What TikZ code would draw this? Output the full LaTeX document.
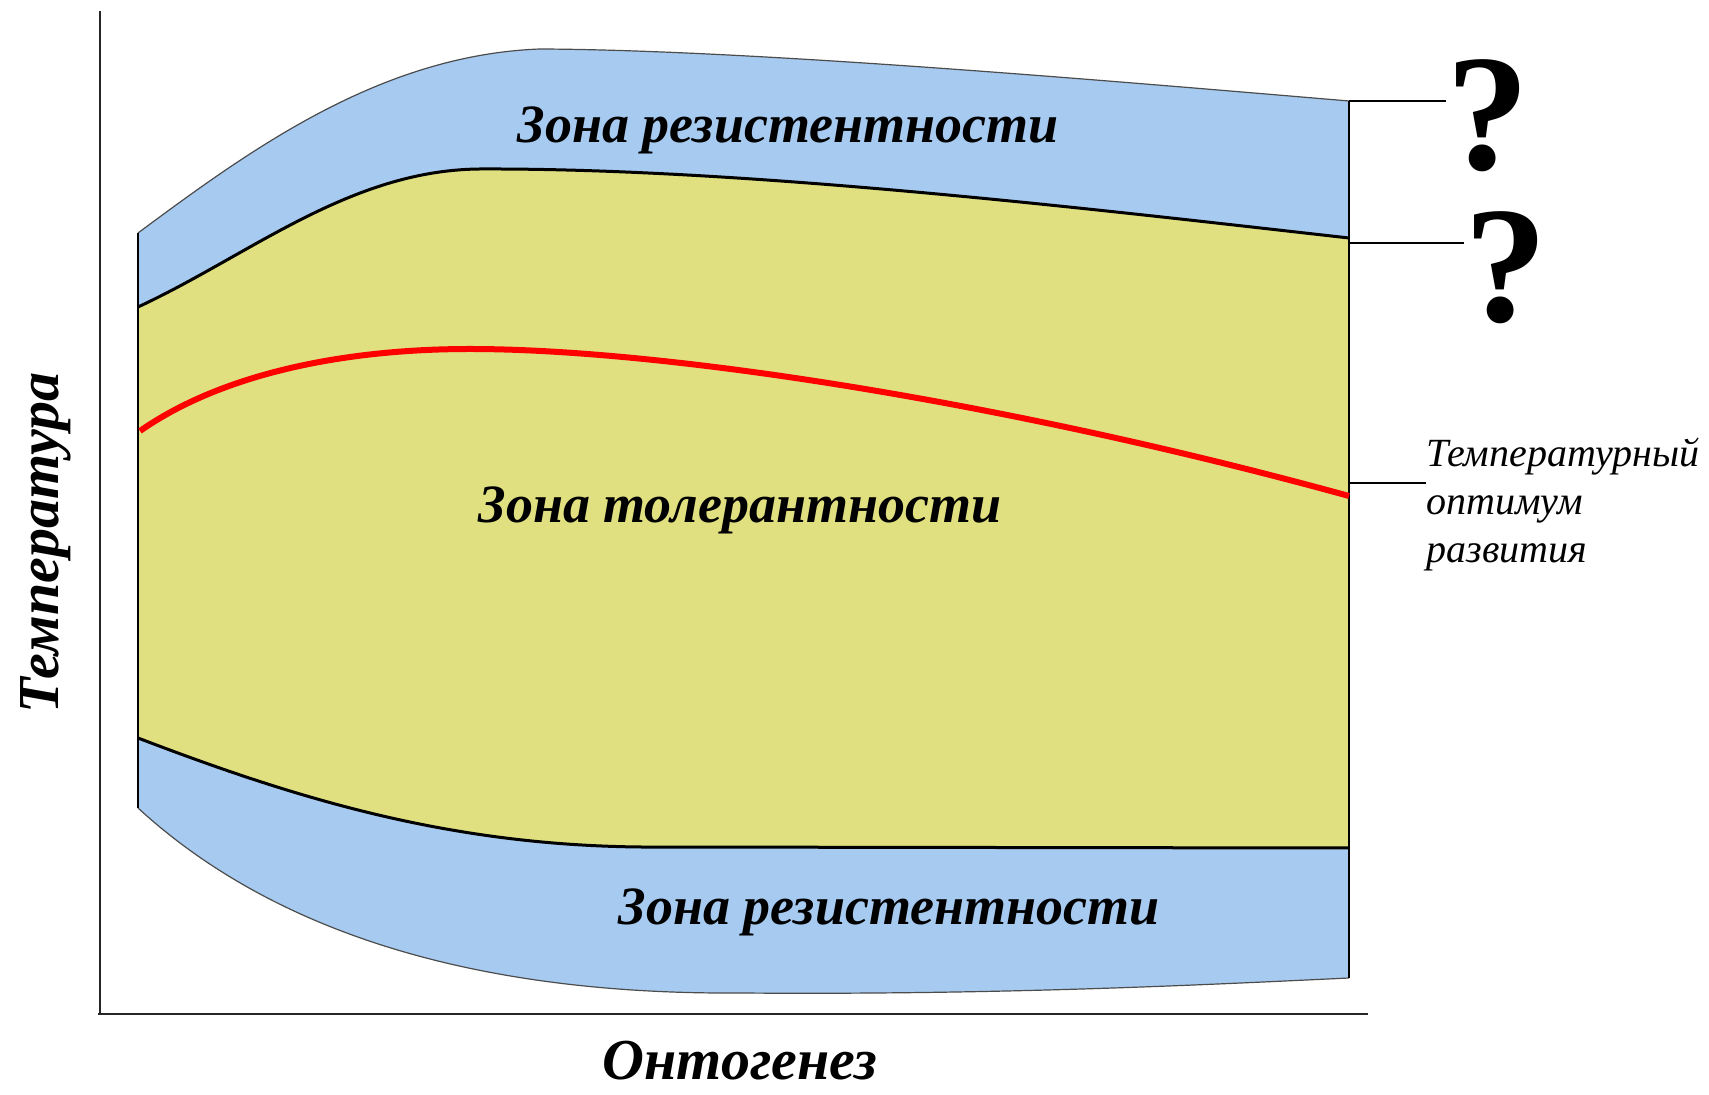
\documentclass[tikz,border=0pt]{standalone}
\usepackage{fontspec}
\setmainfont{Liberation Serif}
\usetikzlibrary{calc}
\definecolor{zoneblue}{HTML}{A6CAF0}
\definecolor{zoneyellow}{HTML}{E0E080}
\definecolor{optred}{HTML}{FF0000}
\tikzset{zone/.style={font=\fontsize{27}{32}\selectfont\bfseries\itshape,inner sep=0pt},axislabel/.style={font=\fontsize{29}{34}\selectfont\bfseries\itshape,inner sep=0pt},qmark/.style={font=\fontsize{83}{90}\selectfont\bfseries,inner sep=0pt},note/.style={font=\fontsize{20}{24}\selectfont\itshape,align=left,inner sep=0pt},rim/.style={black!70,line width=.6pt},border/.style={line width=1.5pt},optimum/.style={optred,line width=3pt},leader/.style={line width=.6pt},axis/.style={black!85,line width=1pt},every picture/.style={line cap=butt}}

\begin{document}
\begin{tikzpicture}[x=.5pt,y=-.5pt]
\useasboundingbox (0,0) rectangle (1709,1095);
% zones
\fill[zoneblue] (138,233) .. controls (250,150) and (380,55) .. (540,49) .. controls (750,50) and (1100,80) .. (1349,101) -- (1349,978) .. controls (1200,985) and (1000,995) .. (740,993) .. controls (450,995) and (260,920) .. (138,808) -- cycle;
\fill[zoneyellow] (138,307) .. controls (250,255) and (350,170) .. (480,169) .. controls (750,168) and (1100,210) .. (1349,238) -- (1349,848) -- (640,847) .. controls (450,845) and (300,800) .. (138,738) -- cycle;
\draw[rim] (138,233) .. controls (250,150) and (380,55) .. (540,49) .. controls (750,50) and (1100,80) .. (1349,101);
\draw[rim] (138,808) .. controls (260,920) and (450,995) .. (740,993) .. controls (1000,995) and (1200,985) .. (1349,978);
\draw[border] (138,307) .. controls (250,255) and (350,170) .. (480,169) .. controls (750,168) and (1100,210) .. (1349,238);
\draw[border] (138,738) .. controls (300,800) and (450,845) .. (640,847) -- (1349,848);
\draw[line width=.7pt] (138,233) -- (138,808);
\draw[line width=1pt] (1349,101) -- (1349,978);
\draw[optimum] (140,431) .. controls (220,375) and (340,349) .. (470,349) .. controls (660,349) and (1000,400) .. (1349,496);
% axes
\draw[axis] (100,11) -- (100,1014) (98,1014) -- (1368,1014);
% labels
\node[zone,anchor=base] (resTop) at (788,143) {Зона резистентности};
\node[zone,anchor=base] (tol) at (740,523) {Зона толерантности};
\node[zone,anchor=base] (resBot) at (889,925) {Зона резистентности};
\node[axislabel,anchor=base] (xlab) at (740,1079) {Онтогенез};
\node[axislabel,anchor=base,rotate=90] (ylab) at (58,543) {Температура};
\node[qmark,anchor=west] (qTop) at (1446,116) {?};
\node[qmark,anchor=west] (qMid) at (1464,268) {?};
\node[note,anchor=north west] (optLbl) at (1426,438) {Температурный\\оптимум\\развития};
% leaders
\coordinate (edgeTop) at (1349,101);
\coordinate (edgeMid) at (1349,243);
\coordinate (edgeOpt) at (1349,483);
\draw[leader] (edgeTop) -- (edgeTop -| qTop.west);
\draw[leader] (edgeMid) -- (edgeMid -| qMid.west);
\draw[leader] (edgeOpt) -- (edgeOpt -| optLbl.west);
\end{tikzpicture}
\end{document}
